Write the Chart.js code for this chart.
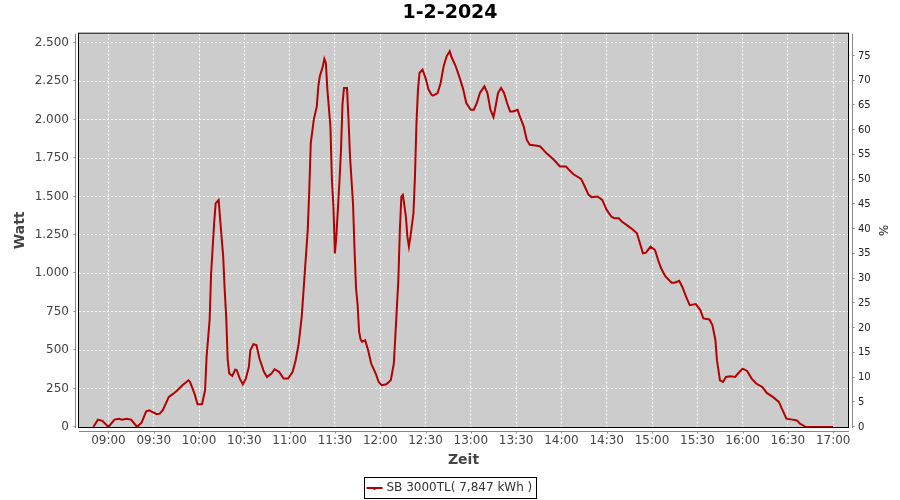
<!DOCTYPE html>
<html>
<head>
<meta charset="utf-8">
<title>1-2-2024</title>
<script src="https://cdn.jsdelivr.net/npm/chart.js@4.4.1/dist/chart.umd.min.js"></script>
<style>
  html, body { margin: 0; padding: 0; background: #fff; }
</style>
</head>
<body>
<canvas id="chart" width="900" height="500"></canvas>
<script>
// Time of day and output in Watt
const times = [
  '08:50','08:53','08:56','09:00','09:04','09:07','09:09','09:12','09:15','09:19',
  '09:22','09:25','09:27','09:32','09:34','09:36','09:40','09:43','09:45','09:49',
  '09:53','09:54','09:57','09:59','10:02','10:04','10:05','10:07','10:08','10:10',
  '10:11','10:13','10:14','10:16','10:17','10:18','10:19','10:20','10:22','10:24',
  '10:25','10:27','10:29','10:31','10:33','10:34','10:36','10:38','10:40','10:43',
  '10:45','10:48','10:50','10:53','10:56','10:59','11:02','11:04','11:06','11:08',
  '11:10','11:12','11:13','11:14','11:16','11:18','11:19','11:20','11:22','11:23',
  '11:24','11:25','11:27','11:28','11:29','11:30','11:31','11:33','11:34','11:35',
  '11:36','11:38','11:39','11:40','11:42','11:43','11:44','11:45','11:46','11:47',
  '11:48','11:50','11:52','11:54','11:57','11:59','12:01','12:04','12:07','12:09',
  '12:10','12:12','12:13','12:14','12:15','12:17','12:18','12:19','12:20','12:22',
  '12:23','12:24','12:25','12:26','12:28','12:30','12:32','12:34','12:35','12:38',
  '12:40','12:42','12:44','12:46','12:47','12:50','12:53','12:55','12:57','13:00',
  '13:02','13:04','13:06','13:09','13:11','13:13','13:15','13:16','13:18','13:20',
  '13:22','13:24','13:26','13:28','13:31','13:32','13:35','13:37','13:39','13:44',
  '13:46','13:50','13:55','13:59','14:03','14:05','14:08','14:13','14:15','14:18',
  '14:20','14:24','14:27','14:30','14:33','14:35','14:38','14:40','14:44','14:47',
  '14:50','14:52','14:54','14:56','14:59','15:02','15:04','15:06','15:09','15:13',
  '15:15','15:18','15:20','15:23','15:25','15:29','15:32','15:34','15:38','15:40',
  '15:42','15:43','15:44','15:45','15:47','15:49','15:52','15:55','15:57','16:00',
  '16:03','16:06','16:09','16:13','16:16','16:20','16:24','16:26','16:29','16:33',
  '16:36','16:38','16:42','17:00'
];
const watts = [
  0, 48, 40, 0, 48, 54, 48, 54, 48, 0,
  30, 102, 109, 83, 87, 109, 196, 217, 233, 272,
  304, 294, 217, 148, 148, 239, 456, 696, 1000, 1326,
  1456, 1478, 1348, 1109, 891, 717, 435, 348, 333, 374,
  370, 315, 278, 315, 391, 500, 539, 533, 446, 359,
  326, 348, 376, 359, 315, 315, 359, 435, 543, 717,
  1000, 1283, 1543, 1848, 2000, 2087, 2217, 2283, 2348, 2396,
  2370, 2196, 1957, 1609, 1435, 1130, 1250, 1600, 1800, 2100,
  2207, 2207, 2000, 1761, 1450, 1150, 900, 800, 620, 570,
  554, 565, 500, 413, 348, 293, 272, 278, 304, 413,
  587, 957, 1283, 1500, 1511, 1370, 1239, 1174, 1239, 1391,
  1630, 1978, 2196, 2304, 2326, 2272, 2196, 2163, 2157, 2174,
  2239, 2348, 2413, 2446, 2413, 2348, 2261, 2196, 2109, 2065,
  2065, 2109, 2174, 2217, 2174, 2065, 2017, 2065, 2174, 2207,
  2174, 2109, 2054, 2054, 2065, 2033, 1957, 1870, 1837, 1830,
  1826, 1783, 1739, 1696, 1696, 1674, 1645, 1615, 1575, 1511,
  1496, 1500, 1478, 1413, 1370, 1359, 1359, 1337, 1309, 1287,
  1261, 1196, 1130, 1135, 1174, 1152, 1087, 1033, 978, 939,
  939, 952, 913, 837, 793, 800, 761, 707, 700, 663,
  565, 435, 370, 304, 293, 326, 330, 326, 348, 380,
  365, 315, 283, 261, 222, 196, 163, 120, 54, 48,
  43, 22, 0, 0
];
const xTickLabels = ['09:00','09:30','10:00','10:30','11:00','11:30','12:00','12:30',
  '13:00','13:30','14:00','14:30','15:00','15:30','16:00','16:30','17:00'];
const wattTicks = [0, 250, 500, 750, 1000, 1250, 1500, 1750, 2000, 2250, 2500];
const percentTicks = [0, 5, 10, 15, 20, 25, 30, 35, 40, 45, 50, 55, 60, 65, 70, 75];
const seriesLabel = 'SB 3000TL( 7,847 kWh )';

function toMin(s) {
  const [h, m] = s.split(':').map(Number);
  return h * 60 + m;
}
function fmtTime(v) {
  const h = Math.floor(v / 60), m = Math.round(v % 60);
  return String(h).padStart(2, '0') + ':' + String(m).padStart(2, '0');
}
// German thousands separator, 2500 -> 2.500
function fmtWatt(v) {
  if (v < 1000) return String(v);
  return Math.floor(v / 1000) + '.' + String(v % 1000).padStart(3, '0');
}

const FONT = 'DejaVu Sans';
const RED = '#b40000';

// plot background, offset axis lines with little tick marks, boxed legend
const jfreeLook = {
  id: 'jfreeLook',
  beforeDraw(chart) {
    const {ctx, chartArea: a} = chart;
    ctx.save();
    ctx.fillStyle = '#fff';
    ctx.fillRect(0, 0, chart.width, chart.height);
    ctx.fillStyle = '#cccccc';
    ctx.fillRect(a.left, a.top, a.right - a.left, a.bottom - a.top);
    ctx.restore();
  },
  afterDraw(chart) {
    const {ctx, chartArea: a, scales} = chart;
    ctx.save();
    ctx.strokeStyle = '#000';
    ctx.lineWidth = 1;
    ctx.strokeRect(a.left - 0.5, a.top - 0.5, a.right - a.left + 1, a.bottom - a.top + 1);

    ctx.strokeStyle = '#888';
    ctx.beginPath();
    const lx = a.left - 3.5;
    ctx.moveTo(lx, a.top); ctx.lineTo(lx, a.bottom + 1);
    scales.y.ticks.forEach(t => {
      const py = Math.round(scales.y.getPixelForValue(t.value)) - 0.5;
      ctx.moveTo(lx - 2, py); ctx.lineTo(lx, py);
    });
    const rx = a.right + 4.5;
    ctx.moveTo(rx, a.top); ctx.lineTo(rx, a.bottom + 1);
    scales.y1.ticks.forEach(t => {
      const py = Math.round(scales.y1.getPixelForValue(t.value)) - 0.5;
      ctx.moveTo(rx, py); ctx.lineTo(rx + 2, py);
    });
    const by = a.bottom + 4.5;
    ctx.moveTo(a.left, by); ctx.lineTo(a.right + 1, by);
    scales.x.ticks.forEach(t => {
      const px = Math.round(scales.x.getPixelForValue(t.value)) + 0.5;
      ctx.moveTo(px, by); ctx.lineTo(px, by + 2);
    });
    ctx.stroke();

    // legend
    const ds = chart.data.datasets[0];
    ctx.font = '12px "' + FONT + '"';
    const tw = ctx.measureText(ds.label).width;
    const bw = Math.round(tw + 26), bh = 21;
    const bx = Math.round(chart.width / 2 - bw / 2) + 0.5, bTop = 477.5;
    ctx.strokeStyle = '#000';
    ctx.strokeRect(bx, bTop, bw, bh);
    const my = bTop + bh / 2;
    ctx.strokeStyle = ds.borderColor;
    ctx.lineWidth = 2;
    ctx.beginPath();
    ctx.moveTo(bx + 2, my); ctx.lineTo(bx + 18, my);
    ctx.stroke();
    ctx.fillStyle = ds.borderColor;
    ctx.fillRect(bx + 9, my, 2, 2);
    ctx.fillStyle = '#333';
    ctx.textBaseline = 'middle';
    ctx.fillText(ds.label, bx + 22, my);
    ctx.restore();
  }
};

new Chart(document.getElementById('chart'), {
  type: 'line',
  data: {
    datasets: [{
      label: seriesLabel,
      data: times.map((t, i) => ({x: toMin(t), y: watts[i]})),
      borderColor: RED,
      borderWidth: 2,
      pointRadius: 0,
      tension: 0,
      fill: false
    }]
  },
  options: {
    responsive: false,
    animation: false,
    devicePixelRatio: 1,
    layout: {padding: 0},
    plugins: {
      legend: {display: false},
      tooltip: {enabled: false},
      title: {
        display: true,
        text: '1-2-2024',
        color: '#000',
        font: {family: FONT, size: 19, weight: 'bold', lineHeight: 1.3},
        padding: {top: 1, bottom: 8}
      }
    },
    scales: {
      x: {
        type: 'linear',
        min: 520.5,
        max: 1029.8,
        afterBuildTicks: s => { s.ticks = xTickLabels.map(l => ({value: toMin(l)})); },
        afterFit: s => { s.height = 73; },
        ticks: {
          callback: v => fmtTime(v),
          color: '#444',
          font: {family: FONT, size: 12},
          padding: 7,
          maxRotation: 0,
          autoSkip: false
        },
        grid: {color: '#fff', drawTicks: false, lineWidth: 1},
        border: {display: false, dash: [2, 2]},
        title: {
          display: true,
          text: 'Zeit',
          color: '#444',
          font: {family: FONT, size: 14, weight: 'bold'},
          padding: {top: 0, bottom: 31}
        }
      },
      y: {
        position: 'left',
        min: 0,
        max: 2560,
        afterBuildTicks: s => { s.ticks = wattTicks.map(v => ({value: v})); },
        afterFit: s => { s.width = 79; },
        ticks: {
          callback: v => fmtWatt(v),
          color: '#444',
          font: {family: FONT, size: 12},
          padding: 10,
          autoSkip: false
        },
        grid: {color: '#fff', drawTicks: false, lineWidth: 1},
        border: {display: false, dash: [2, 2]},
        title: {
          display: true,
          text: 'Watt',
          color: '#444',
          font: {family: FONT, size: 14, weight: 'bold'},
          padding: {top: 12, bottom: 0}
        }
      },
      y1: {
        position: 'right',
        min: 0,
        max: 79.5,
        afterBuildTicks: s => { s.ticks = percentTicks.map(v => ({value: v})); },
        afterFit: s => { s.width = 52; },
        ticks: {
          color: '#222',
          font: {family: FONT, size: 10},
          padding: 10,
          autoSkip: false
        },
        grid: {drawOnChartArea: false, drawTicks: false},
        border: {display: false},
        title: {
          display: true,
          text: '%',
          color: '#222',
          font: {family: FONT, size: 12},
          padding: {top: 11, bottom: 0}
        }
      }
    }
  },
  plugins: [jfreeLook]
});
</script>
</body>
</html>
